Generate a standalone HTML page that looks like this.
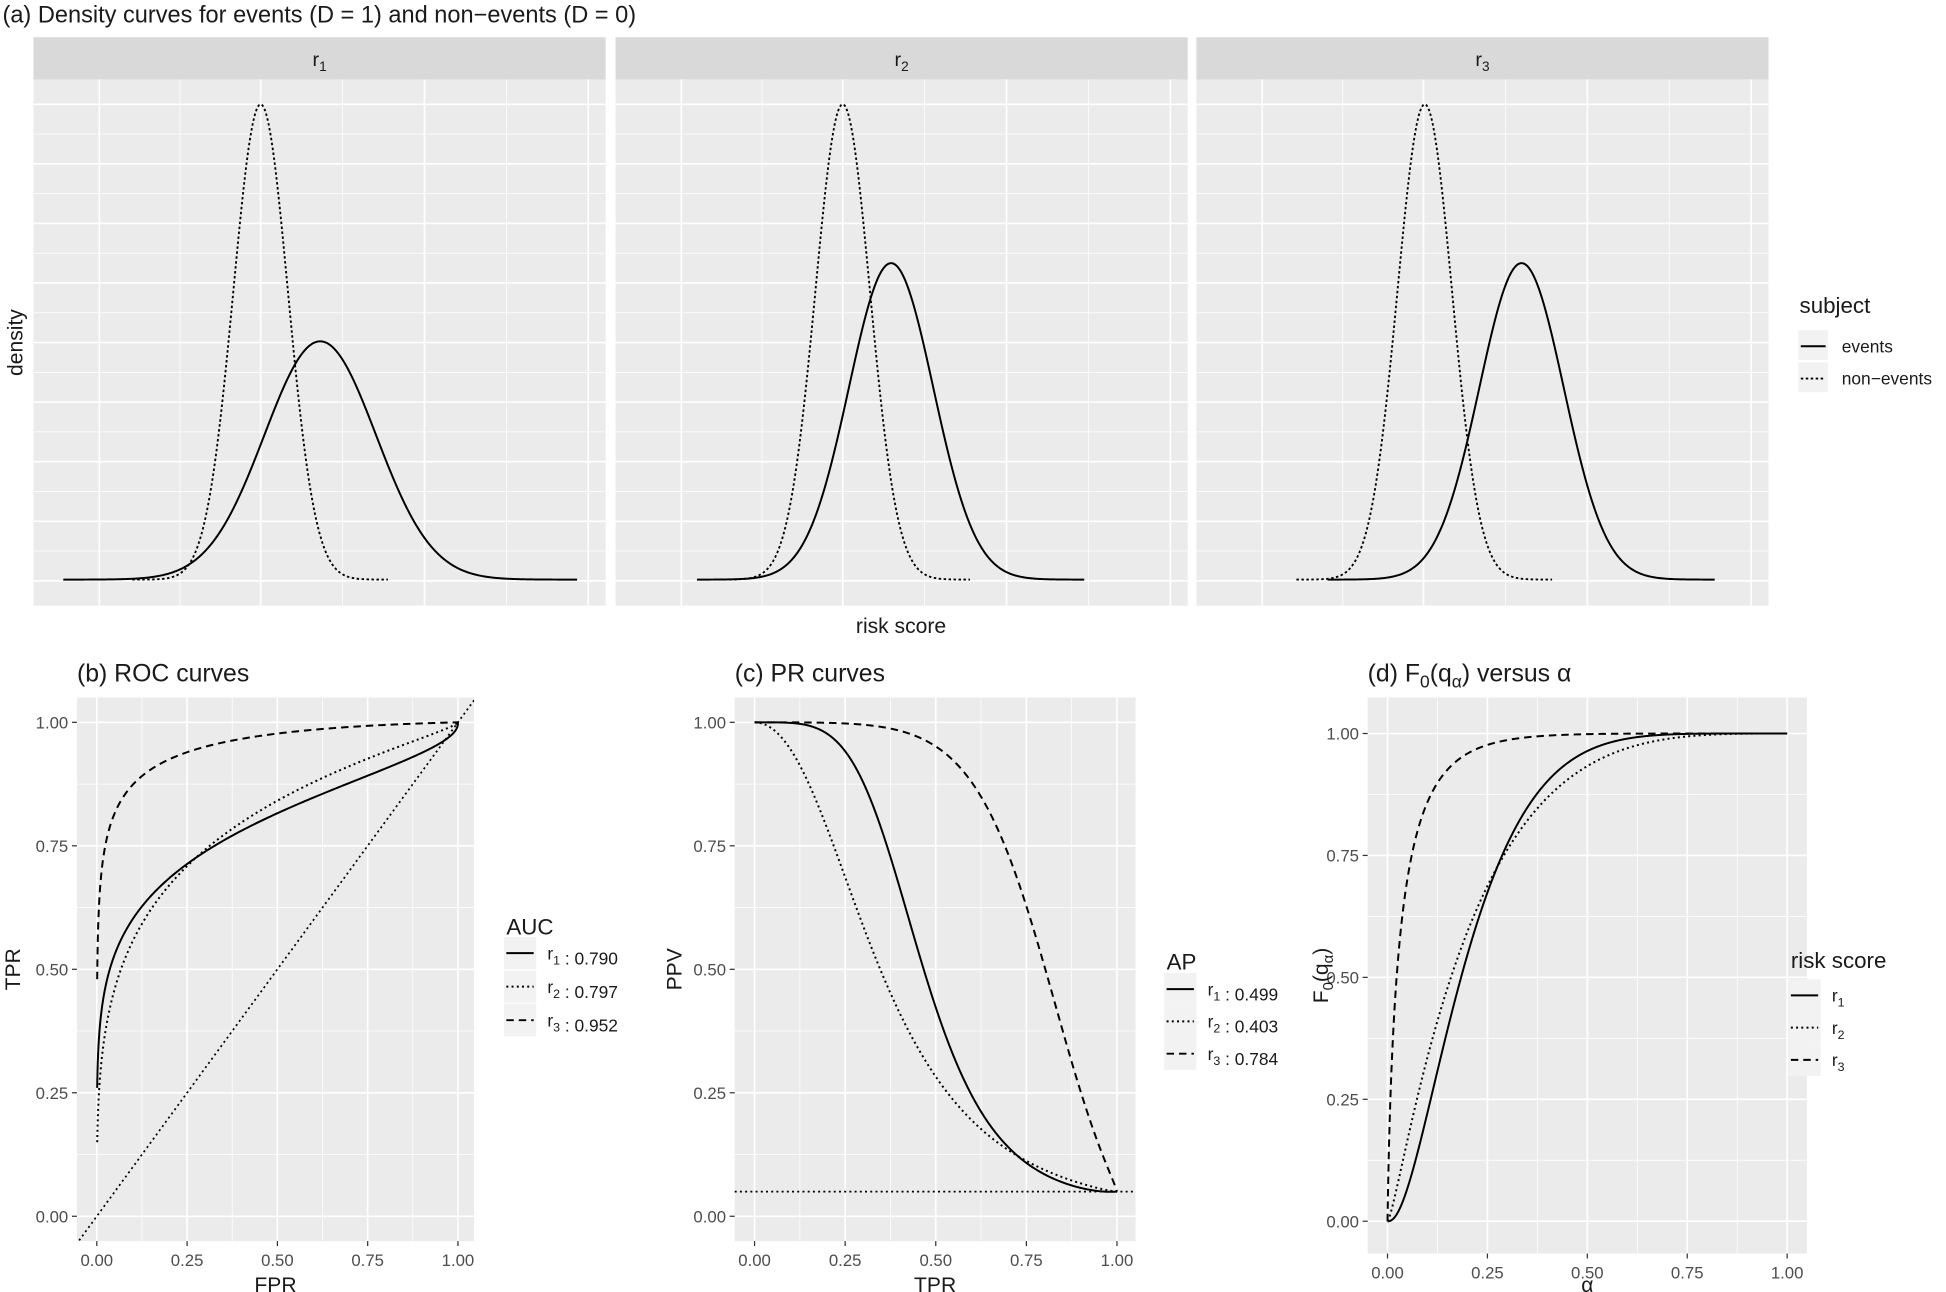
<!DOCTYPE html>
<html><head><meta charset="utf-8"><style>
html,body{margin:0;padding:0;background:#fff;}
svg{display:block;font-family:"Liberation Sans",Arial,sans-serif;}
</style></head><body>
<svg id="s" width="1946" height="1292" viewBox="0 0 1568 1041" xmlns="http://www.w3.org/2000/svg">
<rect width="1568" height="1041" fill="#fff"/>
<g id="g"></g>
</svg>
<script>
let out="";
function el(s){out+=s;}
function Phi(x){
  const t=1/(1+0.2316419*Math.abs(x));
  const d=0.3989423*Math.exp(-x*x/2);
  let p=d*t*(0.3193815+t*(-0.3565638+t*(1.781478+t*(-1.821256+t*1.330274))));
  return x>0?1-p:p;
}
function PhiInv(p){
  if(p<=0)return -8; if(p>=1)return 8;
  let lo=-8,hi=8;for(let i=0;i<60;i++){let m=(lo+hi)/2;if(Phi(m)<p)lo=m;else hi=m;}return (lo+hi)/2;
}
const TXT='#1a1a1a',TK='#4d4d4d';
const DASH='6,4',DOT='1.6,2.6';
function path(pts,dash,w){
  let d=pts.map((p,i)=>(i?'L':'M')+p[0].toFixed(2)+','+p[1].toFixed(2)).join('');
  el(`<path d="${d}" fill="none" stroke="#000" stroke-width="${w||1.6}" ${dash?`stroke-dasharray="${dash}"`:''}/>`);
}
el(`<text x="2" y="18" font-size="19" fill="${TXT}">(a) Density curves for events (D = 1) and non−events (D = 0)</text>`);
const offs=[0,469,937];
const sub=['1','2','3'];
const ev=[[258,275,45],[718,212,34],[1226,212,34]];
const ne=[[210,84,22],[679,84,22],[1148,84,22]];
for(let k=0;k<3;k++){
  const o=offs[k],x0=27+o,x1=488+o;
  el(`<rect x="${x0}" y="30" width="${x1-x0}" height="34" fill="#d9d9d9"/>`);
  el(`<text x="${(x0+x1)/2}" y="53" font-size="16" text-anchor="middle" fill="${TXT}">r<tspan font-size="11" dy="4">${sub[k]}</tspan></text>`);
  el(`<rect x="${x0}" y="64" width="${x1-x0}" height="424" fill="#ebebeb"/>`);
  for(let y=108;y<488;y+=48) el(`<line x1="${x0}" x2="${x1}" y1="${y}" y2="${y}" stroke="#fff" stroke-width="0.6"/>`);
  for(let y=84;y<488;y+=48) el(`<line x1="${x0}" x2="${x1}" y1="${y}" y2="${y}" stroke="#fff" stroke-width="1.3"/>`);
  [80,145,210,276,342,408,474].forEach((x,i)=>el(`<line x1="${x+o}" x2="${x+o}" y1="64" y2="488" stroke="#fff" stroke-width="${i%2?0.6:1.3}"/>`));
  const base=467;
  let [c,p,s]=ne[k]; let pts=[];
  for(let x=c-4.7*s;x<=c+4.7*s;x+=1) pts.push([x,base-(base-p)*Math.exp(-0.5*((x-c)/s)**2)]);
  path(pts,'2,2',1.5);
  [c,p,s]=ev[k]; pts=[];
  for(let x=c-4.6*s;x<=c+4.6*s;x+=1) pts.push([x,base-(base-p)*Math.exp(-0.5*((x-c)/s)**2)]);
  path(pts,null,1.6);
}
el(`<text x="18" y="276" font-size="17" fill="${TXT}" text-anchor="middle" transform="rotate(-90 18 276)">density</text>`);
el(`<text x="726" y="510" font-size="17" fill="${TXT}" text-anchor="middle">risk score</text>`);
el(`<text x="1450" y="252" font-size="18" fill="${TXT}">subject</text>`);
el(`<rect x="1449" y="266" width="24" height="24" fill="#f2f2f2"/><rect x="1449" y="292" width="24" height="24" fill="#f2f2f2"/>`);
el(`<line x1="1451" x2="1471" y1="279" y2="279" stroke="#000" stroke-width="1.6"/>`);
el(`<line x1="1451" x2="1471" y1="305" y2="305" stroke="#000" stroke-width="1.5" stroke-dasharray="2,2"/>`);
el(`<text x="1484" y="284" font-size="14" fill="${TXT}">events</text><text x="1484" y="310" font-size="14" fill="${TXT}">non−events</text>`);

function panel(px0,px1,py0,py1,X,Y,title,xl,yl,ylx){
  el(`<rect x="${px0}" y="${py0}" width="${px1-px0}" height="${py1-py0}" fill="#ebebeb"/>`);
  for(let v=0.125;v<1.1;v+=0.25){
    el(`<line x1="${X(v)}" x2="${X(v)}" y1="${py0}" y2="${py1}" stroke="#fff" stroke-width="0.6"/>`);
    el(`<line x1="${px0}" x2="${px1}" y1="${Y(v)}" y2="${Y(v)}" stroke="#fff" stroke-width="0.6"/>`);
  }
  const labs=['0.00','0.25','0.50','0.75','1.00'];
  labs.forEach((l,i)=>{const v=i/4;
    el(`<line x1="${X(v)}" x2="${X(v)}" y1="${py0}" y2="${py1}" stroke="#fff" stroke-width="1.3"/>`);
    el(`<line x1="${px0}" x2="${px1}" y1="${Y(v)}" y2="${Y(v)}" stroke="#fff" stroke-width="1.3"/>`);
    el(`<line x1="${X(v)}" x2="${X(v)}" y1="${py1}" y2="${py1+4}" stroke="#333" stroke-width="1"/>`);
    el(`<line x1="${px0-4}" x2="${px0}" y1="${Y(v)}" y2="${Y(v)}" stroke="#333" stroke-width="1"/>`);
    el(`<text x="${X(v)}" y="${py1+20}" font-size="13.5" fill="${TK}" text-anchor="middle">${l}</text>`);
    el(`<text x="${px0-7}" y="${Y(v)+5}" font-size="13.5" fill="${TK}" text-anchor="end">${l}</text>`);
  });
  el(`<text x="${px0}" y="549" font-size="20" fill="${TXT}">${title}</text>`);
  el(`<text x="${(px0+px1)/2}" y="1041" font-size="17" fill="${TXT}" text-anchor="middle">${xl}</text>`);
  const cy=(py0+py1)/2;
  el(`<text x="${ylx}" y="${cy}" font-size="17" fill="${TXT}" text-anchor="middle" transform="rotate(-90 ${ylx} ${cy})">${yl}</text>`);
}
function legend(x,ty,title,rows,labs,dashes){
  el(`<text x="${x}" y="${ty}" font-size="18" fill="${TXT}">${title}</text>`);
  rows.forEach((ry,i)=>{
    el(`<rect x="${x-2}" y="${ry-13}" width="26" height="26" fill="#f2f2f2"/>`);
    el(`<line x1="${x}" x2="${x+22}" y1="${ry}" y2="${ry}" stroke="#000" stroke-width="1.6" ${dashes[i]?`stroke-dasharray="${dashes[i]}"`:''}/>`);
    el(`<text x="${x+33}" y="${ry+5}" font-size="14" fill="${TXT}">${labs[i]}</text>`);
  });
}
const curves=[{mu:1.8,sg:2.0,t0:0.26,dash:null},{mu:1.5,sg:1.5,t0:0.15,dash:DOT},{mu:3.0,sg:1.5,t0:0.48,dash:DASH}];
const rsub=i=>`r<tspan font-size="10" dy="4">${i}</tspan><tspan dy="-4"></tspan>`;

{const X=v=>78+v*291,Y=v=>980-v*398;
 panel(62,382,562,1000,X,Y,'(b) ROC curves','FPR','TPR',16);
 el(`<clipPath id="cb"><rect x="62" y="562" width="320" height="438"/></clipPath>`);
 el(`<g clip-path="url(#cb)">`);
 el(`<line x1="${X(-0.1)}" y1="${Y(-0.1)}" x2="${X(1.1)}" y2="${Y(1.1)}" stroke="#000" stroke-width="1.4" stroke-dasharray="${DOT}"/>`);
 curves.forEach(c=>{
   const zmin=c.sg*PhiInv(c.t0)-c.mu; let pts=[];
   for(let z=zmin;z<=6;z+=0.02){const f=Phi(z),t=Phi((c.mu+z)/c.sg);pts.push([X(f),Y(t)]);}
   pts.push([X(1),Y(1)]); path(pts,c.dash);
 });
 el(`</g>`);
 legend(408,753,'AUC',[768,795,822],[rsub(1)+' : 0.790',rsub(2)+' : 0.797',rsub(3)+' : 0.952'],[null,DOT,DASH]);
}
{const X=v=>608+v*292,Y=v=>980-v*398;
 panel(592,915,562,1000,X,Y,'(c) PR curves','TPR','PPV',549);
 el(`<line x1="592" x2="915" y1="${Y(0.05)}" y2="${Y(0.05)}" stroke="#000" stroke-width="1.4" stroke-dasharray="${DOT}"/>`);
 const pi=0.05;
 curves.forEach(c=>{
   let pts=[];
   for(let i=0;i<=600;i++){let t=i/600; if(t<=0)t=1e-5; if(t>=1)t=1-1e-7;
     const z=c.sg*PhiInv(t)-c.mu,f=Phi(z);const p=pi*t/(pi*t+(1-pi)*f);pts.push([X(i/600),Y(p)]);}
   path(pts,c.dash);
 });
 legend(940,781,'AP',[797,823,849],[rsub(1)+' : 0.499',rsub(2)+' : 0.403',rsub(3)+' : 0.784'],[null,DOT,DASH]);
}
{const X=v=>1118+v*322,Y=v=>984-v*393;
 panel(1102,1456,562,1010,X,Y,'(d) F<tspan font-size="14" dy="5">0</tspan><tspan dy="-5">(q</tspan><tspan font-size="14" dy="5">α</tspan><tspan dy="-5">) versus α</tspan>','α','F<tspan font-size="12" dy="4">0</tspan><tspan dy="-4">(q</tspan><tspan font-size="12" dy="4">α</tspan><tspan dy="-4">)</tspan>',1070);
 curves.forEach(c=>{
   let pts=[];
   for(let i=0;i<=800;i++){let a=i/800;const v=a<=0?0:a>=1?1:Phi(c.mu+c.sg*PhiInv(a));pts.push([X(a),Y(v)]);}
   path(pts,c.dash);
 });
 legend(1443,780,'risk score',[802,828,854],[rsub(1),rsub(2),rsub(3)],[null,DOT,DASH]);
}
document.getElementById('g').innerHTML=out;
</script>
</body></html>
